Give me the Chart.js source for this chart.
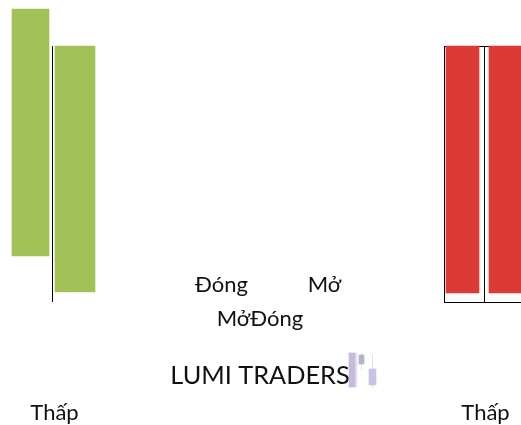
<!DOCTYPE html>
<html lang="vi">
<head>
    <meta charset="UTF-8">
    <title>LUMI TRADERS</title>
    <script src="https://cdn.jsdelivr.net/npm/chart.js"></script>
    <style>
        html, body { margin: 0; padding: 0; background: #fff; }
        #wrap { width: 521px; height: 425px; }
    </style>
</head>
<body>
    <div id="wrap"><canvas id="chart" width="521" height="425"></canvas></div>

    <script>
        // axis runs 0-521 across, 0-425 down, same as the picture
        const candleX = [30.5, 75, 462.5, 509];
        const candleWidth = [37, 40, 33, 40];
        const candleTop = [9, 46, 46, 46];
        const candleBottom = [256, 292, 293, 293];
        const candleColors = ['#a2c157', '#a2c157', '#dd3a35', '#dd3a35'];

        // thin black outline pieces: [x1, y1, x2, y2]
        const wicks = [
            [52.5, 46, 52.5, 302],
            [444.5, 46, 444.5, 302],
            [484.5, 46, 484.5, 302],
            [444, 46.5, 489, 46.5],
            [444, 302.5, 521, 302.5]
        ];

        // small logo next to the brand name
        const logoX = [352, 356, 361.5, 372.5];
        const logoWidth = [6, 2, 5, 7];
        const logoTop = [353, 353, 355, 369];
        const logoBottom = [387, 387, 364, 385];
        const logoColors = ['#c6bbdd', '#e6e1f0', '#b8b3c4', '#cbc2e2'];
        const logoWicks = [
            [361.5, 353, 361.5, 370],
            [372.5, 355, 372.5, 388]
        ];

        const labelTexts = ['Đóng', 'Mở', 'MởĐóng', 'LUMI TRADERS', 'Thấp', 'Thấp'];
        const labelX = [221.5, 324.5, 260, 260, 54.5, 485.5];
        const labelY = [285, 285, 319, 376, 413, 413];
        const labelSizes = [22, 22, 22, 25.3, 22, 22];

        const datasets = [];
        candleX.forEach((x, i) => {
            datasets.push({
                type: 'bar',
                data: [{ x: x, y: [candleTop[i], candleBottom[i]] }],
                backgroundColor: candleColors[i],
                barThickness: candleWidth[i],
                grouped: false,
                order: 1
            });
        });
        logoX.forEach((x, i) => {
            datasets.push({
                type: 'bar',
                data: [{ x: x, y: [logoTop[i], logoBottom[i]] }],
                backgroundColor: logoColors[i],
                barThickness: logoWidth[i],
                grouped: false,
                order: 1
            });
        });
        wicks.forEach(w => {
            datasets.push({
                type: 'line',
                data: [{ x: w[0], y: w[1] }, { x: w[2], y: w[3] }],
                borderColor: '#000',
                borderWidth: 1,
                pointRadius: 0,
                order: 2
            });
        });
        logoWicks.forEach(w => {
            datasets.push({
                type: 'line',
                data: [{ x: w[0], y: w[1] }, { x: w[2], y: w[3] }],
                borderColor: '#e3e0ea',
                borderWidth: 1,
                pointRadius: 0,
                order: 2
            });
        });

        const textLabels = {
            id: 'textLabels',
            afterDraw(chart) {
                const ctx = chart.ctx;
                ctx.save();
                ctx.fillStyle = '#111';
                ctx.textAlign = 'center';
                ctx.textBaseline = 'middle';
                labelTexts.forEach((t, i) => {
                    ctx.font = labelSizes[i] + 'px Lato, "Open Sans", sans-serif';
                    ctx.fillText(t, chart.scales.x.getPixelForValue(labelX[i]), chart.scales.y.getPixelForValue(labelY[i]));
                });
                ctx.restore();
            }
        };

        new Chart(document.getElementById('chart'), {
            data: { datasets: datasets },
            plugins: [textLabels],
            options: {
                responsive: false,
                animation: false,
                layout: { padding: 0 },
                plugins: { legend: { display: false }, tooltip: { enabled: false }, title: { display: false } },
                scales: {
                    x: { type: 'linear', min: 0, max: 521, display: false, offset: false },
                    y: { type: 'linear', min: 0, max: 425, reverse: true, display: false }
                }
            }
        });
    </script>
</body>
</html>
